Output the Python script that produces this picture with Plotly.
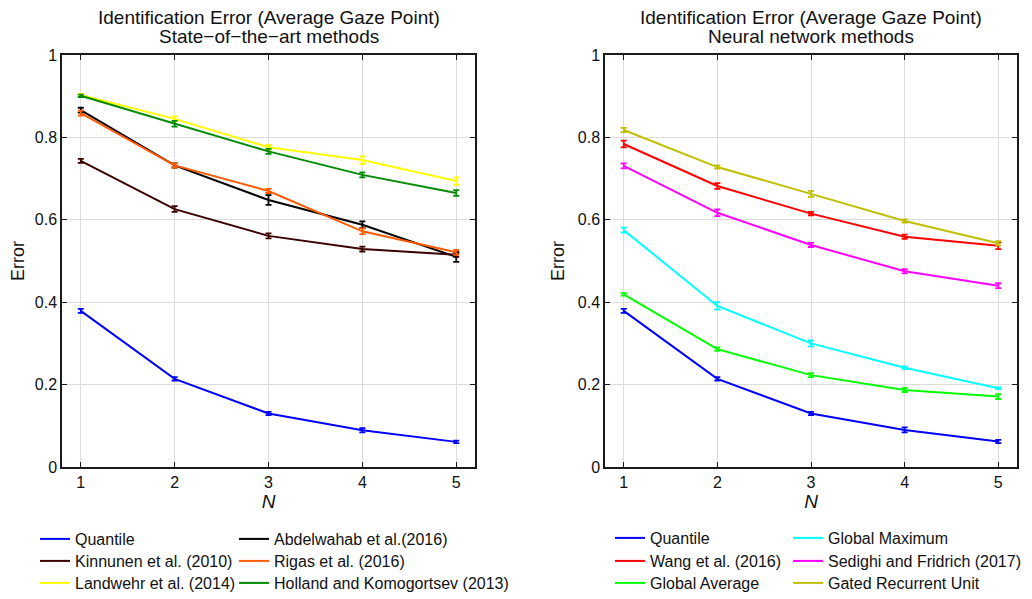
import plotly.graph_objects as go

N = [1, 2, 3, 4, 5]

# Left panel: state-of-the-art methods
left_names = ["Quantile", "Abdelwahab et al.(2016)", "Kinnunen et al. (2010)",
              "Rigas et al. (2016)", "Landwehr et al. (2014)", "Holland and Komogortsev (2013)"]
quantile = [0.379, 0.214, 0.130, 0.089, 0.061]
abdelwahab = [0.866, 0.732, 0.648, 0.588, 0.510]
kinnunen = [0.743, 0.626, 0.561, 0.529, 0.515]
rigas = [0.859, 0.732, 0.670, 0.572, 0.521]
landwehr = [0.903, 0.845, 0.776, 0.745, 0.694]
holland = [0.901, 0.833, 0.766, 0.709, 0.665]

quantile_err = [0.005, 0.004, 0.004, 0.005, 0.003]
abdelwahab_err = [0.006, 0.005, 0.012, 0.008, 0.012]
kinnunen_err = [0.005, 0.007, 0.006, 0.006, 0.005]
rigas_err = [0.006, 0.005, 0.005, 0.007, 0.006]
landwehr_err = [0.003, 0.006, 0.006, 0.009, 0.009]
holland_err = [0.003, 0.007, 0.006, 0.006, 0.007]

# Right panel: neural network methods
right_names = ["Quantile", "Global Maximum", "Wang et al. (2016)",
               "Sedighi and Fridrich (2017)", "Global Average", "Gated Recurrent Unit"]
quantile_r = [0.379, 0.214, 0.130, 0.090, 0.062]
global_max = [0.575, 0.391, 0.300, 0.241, 0.191]
wang = [0.784, 0.682, 0.615, 0.559, 0.537]
sedighi = [0.731, 0.617, 0.539, 0.475, 0.440]
global_avg = [0.419, 0.286, 0.223, 0.187, 0.171]
gru = [0.818, 0.728, 0.663, 0.597, 0.543]

quantile_r_err = [0.005, 0.004, 0.004, 0.006, 0.004]
global_max_err = [0.006, 0.009, 0.007, 0.003, 0.002]
wang_err = [0.008, 0.007, 0.004, 0.005, 0.008]
sedighi_err = [0.006, 0.008, 0.005, 0.005, 0.006]
global_avg_err = [0.003, 0.004, 0.005, 0.005, 0.006]
gru_err = [0.005, 0.004, 0.007, 0.004, 0.005]

left_colors = ["#0000ff", "#000000", "#3a0000", "#ff5a00", "#ffff00", "#008a00"]
right_colors = ["#0000ff", "#00ffff", "#ff0000", "#ff00ff", "#00ff00", "#bfbf00"]

left_vals = [quantile, abdelwahab, kinnunen, rigas, landwehr, holland]
left_errs = [quantile_err, abdelwahab_err, kinnunen_err, rigas_err, landwehr_err, holland_err]
right_vals = [quantile_r, global_max, wang, sedighi, global_avg, gru]
right_errs = [quantile_r_err, global_max_err, wang_err, sedighi_err, global_avg_err, gru_err]

FONT = "Liberation Sans, Arial, sans-serif"
W, H = 1032, 599
OFF = 8  # page body margin offset

def px_x(p):
    return (p - OFF) / W

def px_y(p):
    return 1 - (p - OFF) / H

# legend grid (text start x of each column, row centre y), row-major order
LEFT_COLS = [75, 274]
RIGHT_COLS = [650, 828]
ROWS_Y = [539, 561, 583]
ROWS_Y_R = [538, 561, 583]

legend_common = dict(orientation="v", bgcolor="rgba(0,0,0,0)",
                     font=dict(family=FONT, size=16, color="#111111"),
                     itemwidth=30, xanchor="left", yanchor="middle",
                     borderwidth=0, xref="paper", yref="paper")

fig = go.Figure()
legends = {}
k = 0

def add(name, vals, errs, color, xa, ya, lx, ly):
    global k
    k += 1
    key = "legend" if k == 1 else f"legend{k}"
    legends[key] = dict(legend_common, x=px_x(lx - 40), y=px_y(ly))
    fig.add_trace(go.Scatter(
        x=N, y=vals, name=name, mode="lines",
        line=dict(color=color, width=2),
        error_y=dict(type="data", array=errs, visible=True, color=color,
                     thickness=1.8, width=3),
        xaxis=xa, yaxis=ya, legend=key))

for i, (nm, v, e, c) in enumerate(zip(left_names, left_vals, left_errs, left_colors)):
    add(nm, v, e, c, "x", "y", LEFT_COLS[i % 2], ROWS_Y[i // 2])
for i, (nm, v, e, c) in enumerate(zip(right_names, right_vals, right_errs, right_colors)):
    add(nm, v, e, c, "x2", "y2", RIGHT_COLS[i % 2], ROWS_Y_R[i // 2])

axis_common = dict(
    showline=True, linecolor="#1a1a1a", linewidth=1.5, mirror="ticks",
    ticks="inside", ticklen=5, tickwidth=1, tickcolor="#1a1a1a",
    showgrid=True, gridcolor="#dcdcdc", gridwidth=1, zeroline=False,
    tickfont=dict(family=FONT, size=16, color="#111111"),
)

xcommon = dict(axis_common, range=[0.8, 5.2], tickvals=N, ticktext=[str(n) for n in N],
               title=dict(text="<i>N</i>", font=dict(family=FONT, size=19, color="#111111"),
                          standoff=0))
ycommon = dict(axis_common, range=[0, 1], tickvals=[0, 0.2, 0.4, 0.6, 0.8, 1],
               ticktext=["0", "0.2", "0.4", "0.6", "0.8", "1"],
               title=dict(text="Error", font=dict(family=FONT, size=18, color="#111111"),
                          standoff=8))

ydom = [px_y(467), px_y(55)]

ann_font = dict(family=FONT, size=19, color="#111111")
lcx = (px_x(62) + px_x(475)) / 2
rcx = (px_x(605) + px_x(1017)) / 2
titles = [
    ("Identification Error (Average Gaze Point)", lcx, 17),
    ("State\u2212of\u2212the\u2212art methods", lcx, 36),
    ("Identification Error (Average Gaze Point)", rcx, 17),
    ("Neural network methods", rcx, 36),
]

fig.update_layout(
    width=W, height=H,
    margin=dict(l=0, r=0, t=0, b=0, autoexpand=False),
    paper_bgcolor="white", plot_bgcolor="white",
    showlegend=True,
    xaxis=dict(xcommon, domain=[px_x(62), px_x(475)], anchor="y"),
    yaxis=dict(ycommon, domain=ydom, anchor="x"),
    xaxis2=dict(xcommon, domain=[px_x(605), px_x(1017)], anchor="y2"),
    yaxis2=dict(ycommon, domain=ydom, anchor="x2"),
    annotations=[dict(text=t, x=x, y=px_y(yc), xref="paper", yref="paper",
                      xanchor="center", yanchor="middle", showarrow=False, font=ann_font)
                 for t, x, yc in titles],
    **legends,
)

fig.write_html("out.html")
